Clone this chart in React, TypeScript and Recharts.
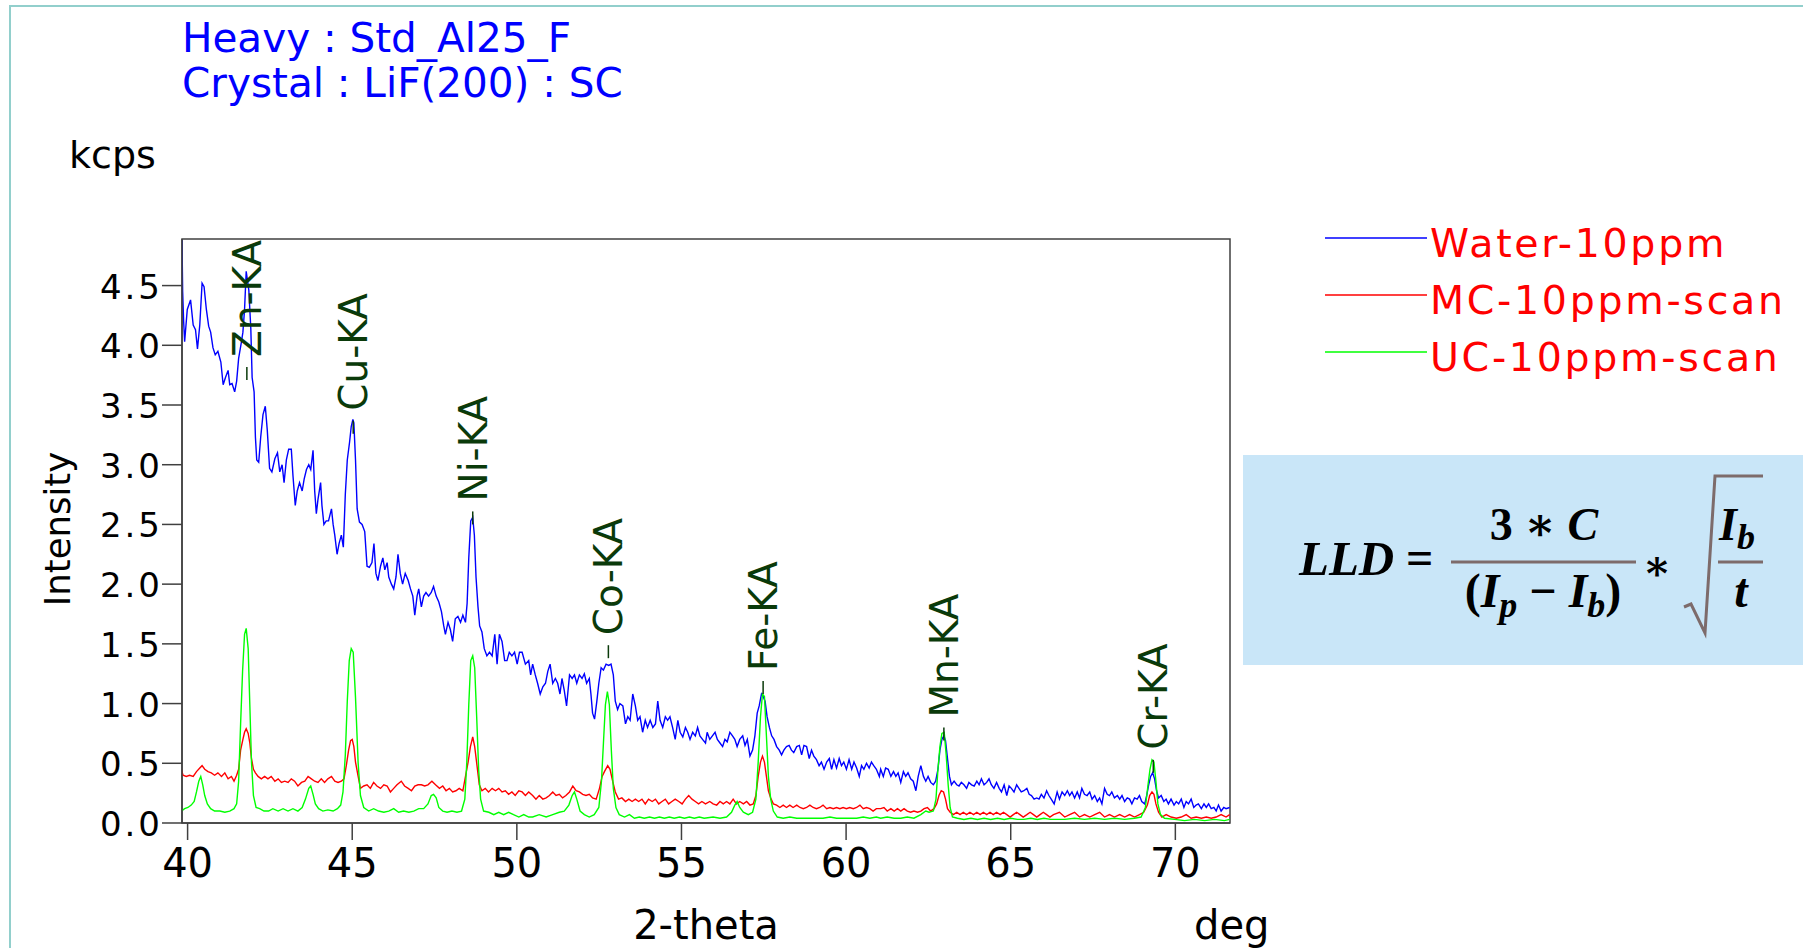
import React from "react";
import { LineChart, Line, XAxis, YAxis, ReferenceDot, ReferenceArea } from "recharts";

// scan readings: [2-theta (deg), intensity (kcps)]
const waterScan: [number, number][] = [
  [39.83, 4.88], [39.85, 4.45], [39.88, 4.2], [39.91, 4.03], [39.99, 4.3], [40.09, 4.38], [40.17, 4.17], [40.24, 4.13],
  [40.3, 3.97], [40.37, 4.17], [40.44, 4.52], [40.5, 4.49], [40.57, 4.3], [40.64, 4.16], [40.7, 4.11], [40.77, 3.98],
  [40.84, 3.92], [40.92, 3.95], [41.01, 3.86], [41.08, 3.67], [41.15, 3.73], [41.23, 3.79], [41.28, 3.67], [41.35, 3.68],
  [41.43, 3.61], [41.49, 3.7], [41.55, 3.89], [41.63, 4.02], [41.68, 4.11], [41.73, 4.3], [41.78, 4.62], [41.86, 4.46],
  [41.92, 4.14], [41.96, 3.73], [42.02, 3.61], [42.06, 3.23], [42.1, 3.04], [42.16, 3.02], [42.22, 3.23], [42.29, 3.42],
  [42.36, 3.49], [42.42, 3.29], [42.49, 2.97], [42.56, 2.94], [42.65, 3.05], [42.73, 3.1], [42.8, 2.94], [42.87, 3.0],
  [42.93, 2.85], [43.0, 3.04], [43.07, 3.13], [43.15, 3.13], [43.2, 2.91], [43.27, 2.66], [43.33, 2.78], [43.4, 2.85],
  [43.48, 2.78], [43.54, 2.88], [43.61, 2.96], [43.68, 3.0], [43.74, 2.96], [43.81, 3.12], [43.86, 2.78], [43.91, 2.59],
  [43.96, 2.71], [44.04, 2.85], [44.08, 2.66], [44.14, 2.5], [44.21, 2.53], [44.28, 2.53], [44.37, 2.63], [44.42, 2.5],
  [44.47, 2.41], [44.54, 2.25], [44.6, 2.34], [44.67, 2.41], [44.73, 2.31], [44.79, 2.75], [44.85, 3.04], [44.92, 3.19],
  [44.97, 3.32], [45.02, 3.38], [45.05, 3.35], [45.1, 3.04], [45.15, 2.63], [45.22, 2.52], [45.3, 2.5], [45.38, 2.44],
  [45.45, 2.15], [45.52, 2.14], [45.6, 2.18], [45.66, 2.34], [45.72, 2.09], [45.78, 2.03], [45.86, 2.15], [45.93, 2.22],
  [45.99, 2.12], [46.06, 2.18], [46.11, 2.06], [46.19, 2.0], [46.26, 1.96], [46.33, 2.06], [46.39, 2.25], [46.46, 2.09],
  [46.53, 2.0], [46.61, 2.09], [46.7, 2.03], [46.77, 1.96], [46.84, 1.9], [46.9, 1.74], [46.97, 1.9], [47.02, 1.96],
  [47.1, 1.81], [47.17, 1.9], [47.24, 1.93], [47.32, 1.9], [47.4, 1.93], [47.47, 1.98], [47.55, 1.9], [47.63, 1.85],
  [47.71, 1.77], [47.78, 1.65], [47.83, 1.58], [47.91, 1.68], [47.98, 1.62], [48.05, 1.52], [48.13, 1.71], [48.21, 1.73],
  [48.29, 1.68], [48.36, 1.74], [48.44, 1.68], [48.49, 1.84], [48.54, 2.22], [48.6, 2.53], [48.66, 2.56], [48.71, 2.41],
  [48.76, 2.06], [48.82, 1.81], [48.87, 1.65], [48.94, 1.6], [49.01, 1.46], [49.09, 1.4], [49.17, 1.43], [49.25, 1.4],
  [49.33, 1.58], [49.4, 1.33], [49.47, 1.58], [49.55, 1.52], [49.63, 1.36], [49.7, 1.36], [49.77, 1.43], [49.85, 1.4],
  [49.93, 1.43], [50.01, 1.33], [50.08, 1.43], [50.16, 1.43], [50.26, 1.33], [50.36, 1.36], [50.42, 1.24], [50.48, 1.33],
  [50.56, 1.24], [50.63, 1.17], [50.71, 1.08], [50.79, 1.14], [50.87, 1.17], [50.94, 1.27], [51.01, 1.33], [51.09, 1.17],
  [51.17, 1.21], [51.24, 1.17], [51.31, 1.08], [51.37, 1.21], [51.44, 1.11], [51.51, 0.98], [51.6, 1.24], [51.68, 1.21],
  [51.75, 1.24], [51.82, 1.17], [51.9, 1.24], [51.98, 1.21], [52.05, 1.25], [52.12, 1.17], [52.2, 1.21], [52.25, 1.08],
  [52.3, 0.92], [52.36, 0.87], [52.43, 1.02], [52.49, 1.17], [52.56, 1.3], [52.63, 1.28], [52.71, 1.33], [52.79, 1.32],
  [52.86, 1.33], [52.93, 1.24], [52.99, 1.02], [53.06, 0.95], [53.13, 1.0], [53.22, 0.98], [53.3, 0.83], [53.37, 0.89],
  [53.44, 0.86], [53.52, 1.08], [53.6, 0.98], [53.67, 0.86], [53.74, 0.89], [53.82, 0.76], [53.9, 0.86], [53.97, 0.8],
  [54.05, 0.86], [54.13, 0.8], [54.21, 0.83], [54.28, 1.02], [54.35, 0.86], [54.43, 0.8], [54.51, 0.89], [54.58, 0.86],
  [54.65, 0.89], [54.73, 0.8], [54.81, 0.7], [54.89, 0.86], [54.96, 0.76], [55.04, 0.72], [55.12, 0.8], [55.19, 0.76],
  [55.26, 0.7], [55.34, 0.76], [55.42, 0.73], [55.49, 0.8], [55.56, 0.73], [55.64, 0.7], [55.73, 0.67], [55.78, 0.76],
  [55.86, 0.7], [55.94, 0.73], [56.02, 0.76], [56.09, 0.7], [56.17, 0.67], [56.25, 0.64], [56.32, 0.7], [56.39, 0.68],
  [56.47, 0.76], [56.55, 0.73], [56.62, 0.7], [56.69, 0.64], [56.77, 0.7], [56.86, 0.73], [56.93, 0.65], [57.0, 0.7],
  [57.08, 0.56], [57.16, 0.61], [57.23, 0.73], [57.3, 0.92], [57.36, 0.98], [57.43, 1.08], [57.48, 1.06], [57.54, 1.02],
  [57.6, 0.89], [57.67, 0.8], [57.74, 0.73], [57.81, 0.7], [57.89, 0.64], [57.97, 0.61], [58.04, 0.57], [58.11, 0.61],
  [58.19, 0.64], [58.27, 0.65], [58.34, 0.61], [58.41, 0.59], [58.5, 0.64], [58.58, 0.65], [58.65, 0.57], [58.72, 0.65],
  [58.8, 0.64], [58.88, 0.54], [58.95, 0.61], [59.02, 0.56], [59.1, 0.53], [59.18, 0.48], [59.25, 0.51], [59.33, 0.45],
  [59.41, 0.51], [59.49, 0.54], [59.56, 0.45], [59.63, 0.53], [59.71, 0.46], [59.79, 0.54], [59.86, 0.48], [59.93, 0.51],
  [60.01, 0.45], [60.09, 0.53], [60.17, 0.45], [60.24, 0.51], [60.32, 0.46], [60.4, 0.39], [60.47, 0.48], [60.54, 0.45],
  [60.62, 0.5], [60.7, 0.46], [60.77, 0.51], [60.84, 0.48], [60.92, 0.45], [61.01, 0.39], [61.05, 0.45], [61.13, 0.39],
  [61.2, 0.46], [61.28, 0.45], [61.36, 0.39], [61.44, 0.43], [61.51, 0.39], [61.58, 0.42], [61.66, 0.34], [61.74, 0.43],
  [61.81, 0.39], [61.88, 0.42], [61.96, 0.37], [62.04, 0.35], [62.12, 0.27], [62.19, 0.39], [62.27, 0.48], [62.35, 0.39],
  [62.42, 0.35], [62.49, 0.39], [62.57, 0.34], [62.65, 0.32], [62.72, 0.35], [62.79, 0.45], [62.85, 0.61], [62.91, 0.7],
  [62.97, 0.73], [63.02, 0.69], [63.08, 0.54], [63.14, 0.39], [63.2, 0.32], [63.28, 0.35], [63.36, 0.32], [63.43, 0.31],
  [63.5, 0.34], [63.58, 0.32], [63.66, 0.29], [63.73, 0.34], [63.81, 0.32], [63.89, 0.31], [63.97, 0.35], [64.04, 0.32],
  [64.11, 0.37], [64.19, 0.32], [64.27, 0.34], [64.34, 0.37], [64.41, 0.32], [64.49, 0.29], [64.57, 0.34], [64.65, 0.29],
  [64.72, 0.26], [64.8, 0.32], [64.88, 0.23], [64.95, 0.31], [65.02, 0.29], [65.1, 0.26], [65.18, 0.32], [65.25, 0.29],
  [65.32, 0.26], [65.4, 0.27], [65.49, 0.29], [65.56, 0.24], [65.63, 0.23], [65.71, 0.2], [65.79, 0.21], [65.86, 0.2],
  [65.93, 0.24], [66.01, 0.21], [66.09, 0.27], [66.16, 0.23], [66.23, 0.2], [66.32, 0.16], [66.41, 0.26], [66.48, 0.2],
  [66.56, 0.26], [66.64, 0.23], [66.72, 0.27], [66.79, 0.23], [66.86, 0.26], [66.94, 0.21], [67.02, 0.26], [67.09, 0.21],
  [67.16, 0.29], [67.24, 0.24], [67.32, 0.23], [67.4, 0.26], [67.47, 0.2], [67.55, 0.23], [67.63, 0.18], [67.7, 0.21],
  [67.77, 0.16], [67.85, 0.29], [67.93, 0.24], [68.0, 0.23], [68.07, 0.26], [68.15, 0.21], [68.24, 0.23], [68.31, 0.2],
  [68.38, 0.23], [68.46, 0.18], [68.54, 0.21], [68.61, 0.2], [68.68, 0.16], [68.76, 0.21], [68.84, 0.2], [68.91, 0.23],
  [68.98, 0.18], [69.07, 0.16], [69.13, 0.23], [69.19, 0.32], [69.25, 0.39], [69.31, 0.42], [69.37, 0.37], [69.43, 0.27],
  [69.49, 0.21], [69.57, 0.23], [69.65, 0.18], [69.72, 0.2], [69.79, 0.16], [69.87, 0.2], [69.96, 0.15], [70.03, 0.18],
  [70.1, 0.16], [70.18, 0.2], [70.26, 0.13], [70.33, 0.18], [70.4, 0.16], [70.48, 0.2], [70.56, 0.13], [70.63, 0.15],
  [70.7, 0.16], [70.79, 0.12], [70.87, 0.16], [70.94, 0.13], [71.01, 0.16], [71.09, 0.12], [71.17, 0.13], [71.24, 0.1],
  [71.31, 0.15], [71.39, 0.1], [71.47, 0.13], [71.54, 0.12], [71.65, 0.13],
];

const mcScan: [number, number][] = [
  [39.81, 0.45], [39.86, 0.4], [39.96, 0.39], [40.06, 0.4], [40.17, 0.39], [40.27, 0.43], [40.37, 0.46], [40.44, 0.48],
  [40.52, 0.45], [40.62, 0.43], [40.72, 0.42], [40.82, 0.4], [40.92, 0.42], [41.03, 0.39], [41.13, 0.42], [41.23, 0.37],
  [41.33, 0.39], [41.41, 0.35], [41.49, 0.4], [41.55, 0.45], [41.61, 0.61], [41.68, 0.7], [41.73, 0.76], [41.78, 0.79],
  [41.84, 0.75], [41.89, 0.67], [41.94, 0.54], [42.0, 0.45], [42.06, 0.42], [42.14, 0.39], [42.24, 0.37], [42.34, 0.39],
  [42.44, 0.37], [42.54, 0.39], [42.65, 0.35], [42.75, 0.37], [42.85, 0.34], [42.95, 0.35], [43.05, 0.34], [43.15, 0.37],
  [43.25, 0.35], [43.35, 0.31], [43.46, 0.34], [43.56, 0.35], [43.66, 0.39], [43.76, 0.37], [43.86, 0.35], [43.96, 0.34],
  [44.06, 0.37], [44.16, 0.34], [44.26, 0.37], [44.37, 0.39], [44.47, 0.35], [44.57, 0.34], [44.67, 0.35], [44.75, 0.37],
  [44.82, 0.48], [44.89, 0.61], [44.95, 0.69], [45.0, 0.7], [45.05, 0.64], [45.1, 0.51], [45.18, 0.39], [45.25, 0.29],
  [45.35, 0.31], [45.45, 0.32], [45.55, 0.29], [45.65, 0.34], [45.75, 0.31], [45.86, 0.29], [45.96, 0.32], [46.06, 0.31],
  [46.16, 0.26], [46.26, 0.29], [46.36, 0.32], [46.49, 0.35], [46.59, 0.31], [46.7, 0.29], [46.8, 0.27], [46.9, 0.31],
  [47.0, 0.32], [47.1, 0.32], [47.2, 0.31], [47.3, 0.32], [47.42, 0.35], [47.53, 0.32], [47.65, 0.29], [47.75, 0.31],
  [47.85, 0.27], [47.95, 0.29], [48.05, 0.26], [48.15, 0.27], [48.25, 0.29], [48.36, 0.27], [48.44, 0.39], [48.52, 0.51],
  [48.59, 0.64], [48.66, 0.72], [48.72, 0.64], [48.79, 0.48], [48.86, 0.32], [48.94, 0.27], [49.04, 0.29], [49.14, 0.26],
  [49.25, 0.29], [49.35, 0.27], [49.45, 0.29], [49.55, 0.26], [49.65, 0.27], [49.75, 0.24], [49.85, 0.26], [49.95, 0.23],
  [50.06, 0.27], [50.16, 0.26], [50.26, 0.23], [50.36, 0.26], [50.48, 0.23], [50.58, 0.2], [50.68, 0.23], [50.79, 0.2],
  [50.89, 0.21], [50.99, 0.23], [51.09, 0.26], [51.19, 0.23], [51.29, 0.24], [51.39, 0.21], [51.49, 0.23], [51.6, 0.26],
  [51.7, 0.31], [51.8, 0.27], [51.9, 0.26], [52.0, 0.24], [52.1, 0.23], [52.2, 0.24], [52.3, 0.21], [52.41, 0.2],
  [52.51, 0.29], [52.59, 0.39], [52.66, 0.43], [52.76, 0.48], [52.83, 0.45], [52.91, 0.35], [52.99, 0.26], [53.09, 0.2],
  [53.19, 0.21], [53.3, 0.18], [53.4, 0.2], [53.5, 0.18], [53.6, 0.2], [53.7, 0.18], [53.8, 0.2], [53.9, 0.16],
  [54.0, 0.2], [54.11, 0.18], [54.21, 0.2], [54.31, 0.16], [54.41, 0.18], [54.51, 0.2], [54.61, 0.16], [54.71, 0.18],
  [54.81, 0.2], [54.92, 0.18], [55.02, 0.16], [55.12, 0.2], [55.22, 0.23], [55.32, 0.2], [55.42, 0.18], [55.52, 0.16],
  [55.62, 0.18], [55.73, 0.16], [55.86, 0.18], [55.96, 0.16], [56.07, 0.15], [56.17, 0.18], [56.27, 0.16], [56.37, 0.18],
  [56.47, 0.16], [56.57, 0.2], [56.67, 0.16], [56.77, 0.18], [56.88, 0.16], [56.98, 0.18], [57.08, 0.15], [57.18, 0.16],
  [57.26, 0.23], [57.33, 0.39], [57.4, 0.51], [57.46, 0.56], [57.52, 0.51], [57.58, 0.39], [57.64, 0.27], [57.71, 0.21],
  [57.79, 0.16], [57.89, 0.15], [57.99, 0.13], [58.09, 0.15], [58.19, 0.13], [58.29, 0.15], [58.39, 0.13], [58.5, 0.15],
  [58.6, 0.13], [58.7, 0.12], [58.8, 0.13], [58.9, 0.15], [59.0, 0.13], [59.1, 0.12], [59.2, 0.13], [59.3, 0.15],
  [59.41, 0.12], [59.51, 0.13], [59.61, 0.12], [59.71, 0.13], [59.81, 0.12], [59.91, 0.13], [60.01, 0.12], [60.11, 0.13],
  [60.22, 0.12], [60.32, 0.13], [60.42, 0.15], [60.52, 0.12], [60.62, 0.13], [60.72, 0.12], [60.82, 0.1], [60.92, 0.12],
  [61.05, 0.12], [61.15, 0.13], [61.25, 0.1], [61.36, 0.12], [61.46, 0.1], [61.56, 0.12], [61.66, 0.1], [61.76, 0.12],
  [61.86, 0.1], [61.96, 0.09], [62.06, 0.1], [62.17, 0.09], [62.27, 0.1], [62.37, 0.12], [62.47, 0.13], [62.57, 0.1],
  [62.67, 0.12], [62.75, 0.16], [62.82, 0.23], [62.89, 0.27], [62.96, 0.26], [63.02, 0.2], [63.08, 0.12], [63.16, 0.09],
  [63.26, 0.07], [63.36, 0.09], [63.46, 0.07], [63.56, 0.09], [63.66, 0.07], [63.76, 0.09], [63.87, 0.07], [63.97, 0.09],
  [64.07, 0.07], [64.17, 0.09], [64.27, 0.07], [64.37, 0.09], [64.47, 0.07], [64.57, 0.09], [64.68, 0.07], [64.78, 0.09],
  [64.88, 0.07], [64.98, 0.05], [65.08, 0.07], [65.18, 0.09], [65.28, 0.07], [65.38, 0.05], [65.49, 0.07], [65.59, 0.09],
  [65.69, 0.07], [65.79, 0.05], [65.89, 0.07], [65.99, 0.09], [66.09, 0.07], [66.19, 0.05], [66.3, 0.07], [66.48, 0.09],
  [66.64, 0.05], [66.79, 0.07], [66.94, 0.09], [67.09, 0.05], [67.24, 0.07], [67.4, 0.05], [67.55, 0.07], [67.7, 0.09],
  [67.85, 0.05], [68.0, 0.07], [68.15, 0.05], [68.31, 0.07], [68.46, 0.05], [68.61, 0.07], [68.76, 0.05], [68.91, 0.07],
  [69.04, 0.09], [69.15, 0.15], [69.22, 0.23], [69.29, 0.26], [69.35, 0.24], [69.41, 0.16], [69.49, 0.09], [69.59, 0.05],
  [69.72, 0.07], [69.87, 0.05], [70.03, 0.04], [70.18, 0.05], [70.33, 0.07], [70.48, 0.04], [70.63, 0.05], [70.79, 0.04],
  [70.94, 0.05], [71.09, 0.04], [71.24, 0.05], [71.39, 0.07], [71.54, 0.05], [71.65, 0.07],
];

const ucScan: [number, number][] = [
  [39.81, 0.1], [39.91, 0.12], [40.01, 0.13], [40.11, 0.15], [40.2, 0.18], [40.27, 0.26], [40.34, 0.35], [40.4, 0.39],
  [40.46, 0.32], [40.52, 0.23], [40.6, 0.16], [40.7, 0.12], [40.82, 0.1], [40.98, 0.1], [41.13, 0.09], [41.28, 0.1],
  [41.41, 0.12], [41.49, 0.16], [41.55, 0.35], [41.61, 0.83], [41.67, 1.27], [41.73, 1.58], [41.78, 1.63], [41.84, 1.46],
  [41.89, 0.99], [41.94, 0.51], [42.0, 0.23], [42.08, 0.13], [42.19, 0.12], [42.32, 0.1], [42.46, 0.1], [42.59, 0.12],
  [42.75, 0.1], [42.9, 0.12], [43.05, 0.1], [43.2, 0.12], [43.35, 0.1], [43.48, 0.13], [43.58, 0.2], [43.68, 0.29],
  [43.74, 0.31], [43.81, 0.24], [43.88, 0.16], [43.98, 0.12], [44.11, 0.1], [44.26, 0.11], [44.42, 0.1], [44.55, 0.12],
  [44.65, 0.15], [44.72, 0.26], [44.79, 0.57], [44.85, 1.02], [44.91, 1.36], [44.97, 1.46], [45.03, 1.43], [45.1, 1.05],
  [45.18, 0.5], [45.25, 0.23], [45.35, 0.13], [45.5, 0.1], [45.65, 0.12], [45.8, 0.1], [45.96, 0.09], [46.11, 0.1],
  [46.26, 0.12], [46.41, 0.09], [46.56, 0.1], [46.72, 0.09], [46.87, 0.1], [47.02, 0.12], [47.17, 0.12], [47.3, 0.16],
  [47.4, 0.23], [47.47, 0.24], [47.55, 0.21], [47.63, 0.13], [47.75, 0.1], [47.88, 0.09], [48.03, 0.1], [48.18, 0.09],
  [48.32, 0.1], [48.42, 0.2], [48.48, 0.51], [48.54, 0.99], [48.6, 1.36], [48.66, 1.4], [48.72, 1.3], [48.78, 0.89],
  [48.84, 0.45], [48.9, 0.2], [48.99, 0.1], [49.15, 0.09], [49.3, 0.07], [49.45, 0.09], [49.6, 0.07], [49.75, 0.09],
  [49.9, 0.07], [50.06, 0.05], [50.21, 0.07], [50.36, 0.05], [50.48, 0.05], [50.68, 0.07], [50.89, 0.05], [51.09, 0.07],
  [51.29, 0.09], [51.44, 0.1], [51.58, 0.15], [51.68, 0.23], [51.75, 0.26], [51.82, 0.2], [51.92, 0.1], [52.05, 0.07],
  [52.2, 0.05], [52.35, 0.07], [52.49, 0.13], [52.57, 0.35], [52.63, 0.67], [52.69, 0.99], [52.75, 1.1], [52.81, 0.99],
  [52.87, 0.61], [52.93, 0.29], [53.01, 0.13], [53.11, 0.07], [53.27, 0.05], [53.42, 0.07], [53.57, 0.04], [53.72, 0.05],
  [53.87, 0.04], [54.03, 0.05], [54.18, 0.04], [54.33, 0.05], [54.48, 0.04], [54.63, 0.05], [54.78, 0.04], [54.94, 0.05],
  [55.09, 0.04], [55.24, 0.05], [55.39, 0.04], [55.54, 0.05], [55.69, 0.04], [55.96, 0.05], [56.17, 0.04], [56.37, 0.05],
  [56.52, 0.09], [56.62, 0.15], [56.69, 0.18], [56.77, 0.13], [56.88, 0.09], [57.03, 0.07], [57.16, 0.09], [57.26, 0.2],
  [57.33, 0.51], [57.4, 0.89], [57.46, 1.08], [57.52, 1.06], [57.58, 0.73], [57.64, 0.39], [57.71, 0.2], [57.79, 0.1],
  [57.91, 0.05], [58.09, 0.04], [58.29, 0.05], [58.5, 0.04], [58.7, 0.04], [58.9, 0.04], [59.1, 0.04], [59.3, 0.04],
  [59.51, 0.05], [59.71, 0.04], [59.91, 0.04], [60.11, 0.04], [60.32, 0.04], [60.52, 0.05], [60.72, 0.04], [60.92, 0.05],
  [61.05, 0.04], [61.25, 0.05], [61.46, 0.04], [61.66, 0.04], [61.86, 0.05], [62.06, 0.04], [62.27, 0.07], [62.42, 0.1],
  [62.52, 0.09], [62.65, 0.1], [62.73, 0.2], [62.79, 0.45], [62.85, 0.64], [62.91, 0.75], [62.98, 0.76], [63.04, 0.57],
  [63.1, 0.32], [63.16, 0.13], [63.23, 0.05], [63.38, 0.04], [63.58, 0.03], [63.79, 0.04], [63.99, 0.03], [64.19, 0.04],
  [64.39, 0.03], [64.6, 0.04], [64.8, 0.03], [65.0, 0.04], [65.2, 0.03], [65.4, 0.03], [65.61, 0.04], [65.81, 0.03],
  [66.01, 0.04], [66.21, 0.03], [66.33, 0.03], [66.64, 0.03], [66.94, 0.04], [67.24, 0.03], [67.55, 0.04], [67.85, 0.03],
  [68.15, 0.04], [68.46, 0.03], [68.76, 0.04], [68.96, 0.05], [69.09, 0.13], [69.17, 0.32], [69.23, 0.45], [69.29, 0.53],
  [69.35, 0.51], [69.41, 0.35], [69.47, 0.16], [69.55, 0.07], [69.67, 0.04], [69.98, 0.03], [70.28, 0.02], [70.58, 0.03],
  [70.89, 0.02], [71.19, 0.03], [71.49, 0.02], [71.65, 0.03],
];

const seriesNames = ["Water-10ppm", "MC-10ppm-scan", "UC-10ppm-scan"];
const seriesColors = ["#0000ff", "#ff0000", "#00ff00"];
const seriesScans = [waterScan, mcScan, ucScan];

const peakNames = ["Zn-KA", "Cu-KA", "Ni-KA", "Co-KA", "Fe-KA", "Mn-KA", "Cr-KA"];
const peakDeg = [41.8, 45.03, 48.66, 52.78, 57.48, 62.97, 69.33];
const peakLabelAt = [3.71, 3.26, 2.5, 1.38, 1.08, 0.69, 0.42];

const xTicks = [40, 45, 50, 55, 60, 65, 70];
const yTicks = [0, 0.5, 1, 1.5, 2, 2.5, 3, 3.5, 4, 4.5];
const xDomain = [39.83, 71.66];
const yDomain = [0, 4.89];

const SANS = '"DejaVu Sans", Verdana, sans-serif';
const MATH = '"Liberation Serif", "DejaVu Serif", serif';
const LABEL_GREEN = "#0a3a0a";
const FRAME = "#404040";
const MATH_LINE = "#7d6b6b";

const toPoints = (scan: [number, number][]) => scan.map(([deg, kcps]) => ({ deg, kcps }));

const XTick = (props: any) => {
  const { x, y, payload } = props;
  return (
    <text x={x} y={y} dy={35} textAnchor="middle" fontSize={40} fontFamily={SANS} fill="#000">
      {payload.value}
    </text>
  );
};

const YTick = (props: any) => {
  const { x, y, payload } = props;
  return (
    <text x={x + 3} y={y} dy={13} textAnchor="end" fontSize={34} letterSpacing={3} fontFamily={SANS} fill="#000">
      {Number(payload.value).toFixed(1)}
    </text>
  );
};

const PeakLabel = ({ cx, cy, name }: { cx: number; cy: number; name: string }) => (
  <g>
    <line x1={cx} y1={cy} x2={cx} y2={cy - 13} stroke={LABEL_GREEN} strokeWidth={1.5} />
    <text
      transform={`translate(${cx + 14},${cy - 23}) rotate(-90)`}
      fontSize={39}
      fontFamily={SANS}
      fill={LABEL_GREEN}
    >
      {name}
    </text>
  </g>
);

export default function App() {
  return (
    <div style={{ position: "fixed", left: 0, top: 0, width: 1803, height: 948, background: "#fff", overflow: "hidden" }}>
      <LineChart width={1803} height={948} margin={{ top: 239, right: 573, bottom: 65, left: 102 }}>
        <XAxis
          type="number"
          dataKey="deg"
          domain={xDomain}
          allowDataOverflow
          ticks={xTicks}
          tick={XTick}
          tickSize={17}
          tickMargin={2}
          height={60}
          stroke={FRAME}
          strokeWidth={1.5}
        />
        <YAxis
          type="number"
          domain={yDomain}
          allowDataOverflow
          ticks={yTicks}
          tick={YTick}
          tickSize={20}
          tickMargin={2}
          width={80}
          stroke={FRAME}
          strokeWidth={1.5}
        />
        <ReferenceArea
          x1={xDomain[0]}
          x2={xDomain[1]}
          y1={yDomain[0]}
          y2={yDomain[1]}
          ifOverflow="visible"
          fill="none"
          fillOpacity={0}
          stroke={FRAME}
          strokeWidth={1.5}
        />
        {seriesScans.map((scan, i) => (
          <Line
            key={seriesNames[i]}
            data={toPoints(scan)}
            dataKey="kcps"
            name={seriesNames[i]}
            type="linear"
            stroke={seriesColors[i]}
            strokeWidth={1.4}
            dot={false}
            isAnimationActive={false}
          />
        ))}
        {peakNames.map((name, i) => (
          <ReferenceDot
            key={name}
            x={peakDeg[i]}
            y={peakLabelAt[i]}
            r={0}
            ifOverflow="visible"
            shape={(p: any) => <PeakLabel cx={p.cx} cy={p.cy} name={name} />}
          />
        ))}
      </LineChart>

      <svg width={1803} height={948} style={{ position: "absolute", left: 0, top: 0, pointerEvents: "none" }}>
        {/* outer frame of the screenshot */}
        <line x1={9} y1={6} x2={1803} y2={6} stroke="#92cfcc" strokeWidth={2} />
        <line x1={10} y1={5} x2={10} y2={948} stroke="#92cfcc" strokeWidth={2} />

        {/* header */}
        <text x={182} y={52} fontSize={40.5} fontFamily={SANS} fill="#0000ff">Heavy : Std_Al25_F</text>
        <text x={182} y={97} fontSize={40.5} fontFamily={SANS} fill="#0000ff">Crystal : LiF(200) : SC</text>
        <text x={69} y={168} fontSize={38} fontFamily={SANS} fill="#000">kcps</text>

        {/* axis titles */}
        <text transform="translate(70,529) rotate(-90)" textAnchor="middle" fontSize={35.5} fontFamily={SANS} fill="#000">
          Intensity
        </text>
        <text x={706} y={939} textAnchor="middle" fontSize={40} fontFamily={SANS} fill="#000">2-theta</text>
        <text x={1194} y={939} fontSize={40} fontFamily={SANS} fill="#000">deg</text>

        {/* legend */}
        {seriesNames.map((name, i) => {
          const ly = [238, 295, 352][i];
          return (
            <g key={name}>
              <line x1={1325} y1={ly} x2={1427} y2={ly} stroke={seriesColors[i]} strokeWidth={1.5} />
              <text x={1430} y={ly + 19} fontSize={39.5} letterSpacing={2.7} fontFamily={SANS} fill="#ff0000">
                {name}
              </text>
            </g>
          );
        })}

        {/* detection-limit formula */}
        <rect x={1243} y={455} width={560} height={210} fill="#c9e6f8" />
        <g fontFamily={MATH} fontWeight="bold" fontStyle="italic" fill="#000">
          <text x={1299} y={575} fontSize={49}>LLD</text>
          <text x={1406} y={574} fontSize={48} fontStyle="normal">=</text>
          <text x={1544} y={540} fontSize={46} textAnchor="middle">
            <tspan fontStyle="normal">3 ∗ </tspan>
            <tspan>C</tspan>
          </text>
          <text x={1543} y={607} fontSize={48} textAnchor="middle">
            <tspan fontStyle="normal">(</tspan>
            <tspan>I</tspan>
            <tspan fontSize={36} dy={10}>p</tspan>
            <tspan fontStyle="normal" dy={-10}> − </tspan>
            <tspan>I</tspan>
            <tspan fontSize={36} dy={10}>b</tspan>
            <tspan fontStyle="normal" dy={-10}>)</tspan>
          </text>
          <text x={1657} y={580} fontSize={42} textAnchor="middle" fontStyle="normal">∗</text>
          <text x={1737} y={540} fontSize={46} textAnchor="middle">
            <tspan>I</tspan>
            <tspan fontSize={36} dy={9}>b</tspan>
          </text>
          <text x={1741} y={607} fontSize={48} textAnchor="middle">t</text>
        </g>
        <line x1={1451} y1={562} x2={1636} y2={562} stroke={MATH_LINE} strokeWidth={3} />
        <line x1={1718} y1={562} x2={1763} y2={562} stroke={MATH_LINE} strokeWidth={3} />
        <polyline
          points="1684,607 1691,604 1705,633 1715,476 1763,476"
          fill="none"
          stroke={MATH_LINE}
          strokeWidth={3}
        />
      </svg>
    </div>
  );
}
